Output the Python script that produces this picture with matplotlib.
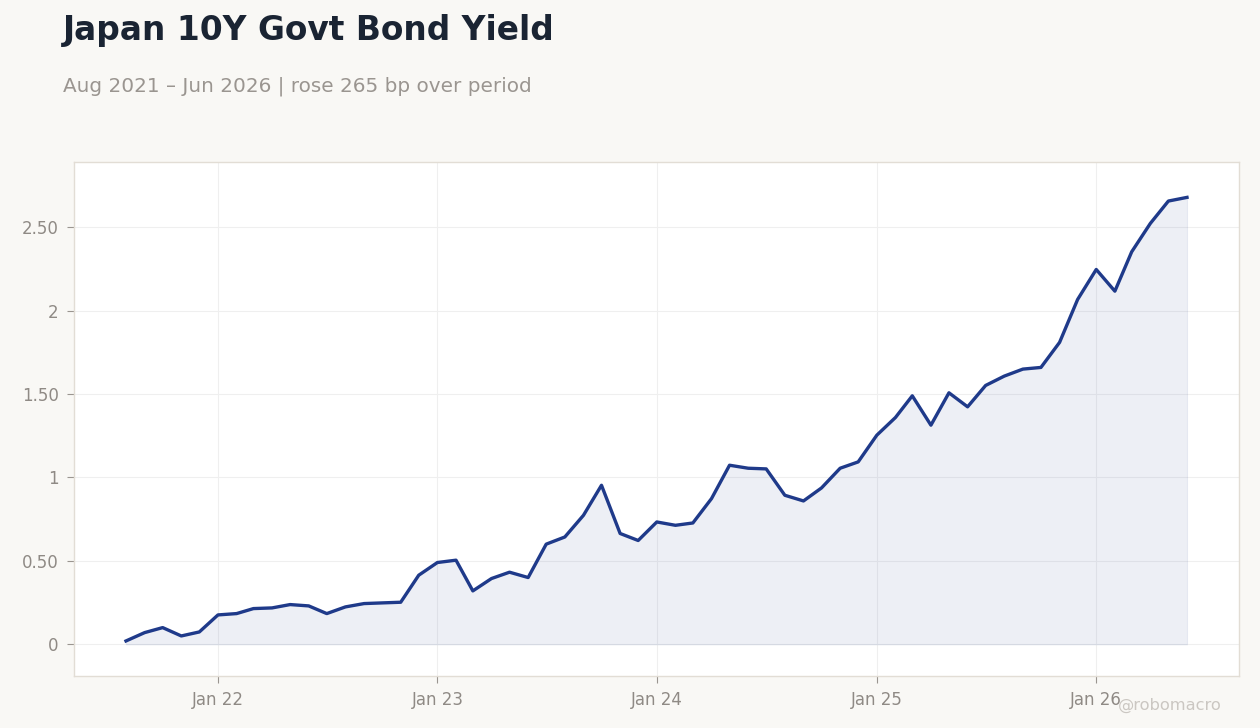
import numpy as np
import pandas as pd
import matplotlib
matplotlib.use("Agg")
import matplotlib.pyplot as plt
import matplotlib.dates as mdates
from matplotlib.ticker import FixedLocator, FuncFormatter

plt.rcParams['font.family'] = ['DejaVu Sans']

# monthly JGB 10Y yield, Aug 2021 -> Jun 2026
months = pd.date_range("2021-08-01", "2026-06-01", freq="MS")
yields = [0.02, 0.07, 0.10, 0.05, 0.074, 0.176, 0.184, 0.214, 0.218, 0.238,
          0.23, 0.184, 0.224, 0.244, 0.248, 0.252, 0.414, 0.49, 0.504, 0.32,
          0.394, 0.432, 0.40, 0.60, 0.643, 0.773, 0.953, 0.664, 0.622, 0.733,
          0.713, 0.727, 0.873, 1.073, 1.055, 1.051, 0.893, 0.859, 0.937, 1.055,
          1.093, 1.253, 1.359, 1.489, 1.313, 1.507, 1.423, 1.551, 1.607, 1.649,
          1.659, 1.809, 2.066, 2.246, 2.116, 2.352, 2.522, 2.656, 2.678]
y_ticks = [0, 0.5, 1, 1.5, 2, 2.5]
y_labels = ["0", "0.50", "1", "1.50", "2", "2.50"]

line_col = "#1f3a8a"
bg = "#f9f8f5"
txt_gray = "#8f8a85"

fig = plt.figure(figsize=(12.6, 7.28), dpi=100, facecolor=bg)
ax = fig.add_axes([74/1260, 1-676/728, (1239-74)/1260, (676-162)/728])
ax.set_facecolor("white")

ax.fill_between(months, 0, yields, facecolor=line_col, alpha=0.08,
                edgecolor=line_col, linewidth=0.8)
ax.plot(months, yields, color=line_col, linewidth=2.4)

ax.set_ylim(-0.19, 2.89)
pad = (months[-1] - months[0]) * 0.049
ax.set_xlim(months[0] - pad, months[-1] + pad)

ax.yaxis.set_major_locator(FixedLocator(y_ticks))
ax.yaxis.set_major_formatter(FuncFormatter(lambda v, p: y_labels[y_ticks.index(v)] if v in y_ticks else ""))
ax.xaxis.set_major_locator(mdates.YearLocator(month=1))
ax.xaxis.set_major_formatter(mdates.DateFormatter("Jan %y"))

ax.grid(True, color="#efefef", linewidth=0.8)
ax.set_axisbelow(True)
for s in ax.spines.values():
    s.set_color("#e2ddd5")
    s.set_linewidth(1)
ax.tick_params(colors="#8f8a85", labelsize=12, length=5, width=0.8, pad=6)
ax.tick_params(axis="both", colors="#9a9590", labelcolor=txt_gray)

fig.text(63/1260, 1-40/728, "Japan 10Y Govt Bond Yield", fontsize=23.7, fontweight="bold",
         color="#1a2433", ha="left", va="baseline")
fig.text(63/1260, 1-92/728, "Aug 2021 \u2013 Jun 2026 | rose 265 bp over period", fontsize=14.4,
         color="#9a9590", ha="left", va="baseline")
fig.text(1222/1260, 1-710/728, "@robomacro", fontsize=11.7, color="#cbc7c2",
         ha="right", va="baseline")

fig.savefig("out.png", dpi=100, facecolor=bg)
